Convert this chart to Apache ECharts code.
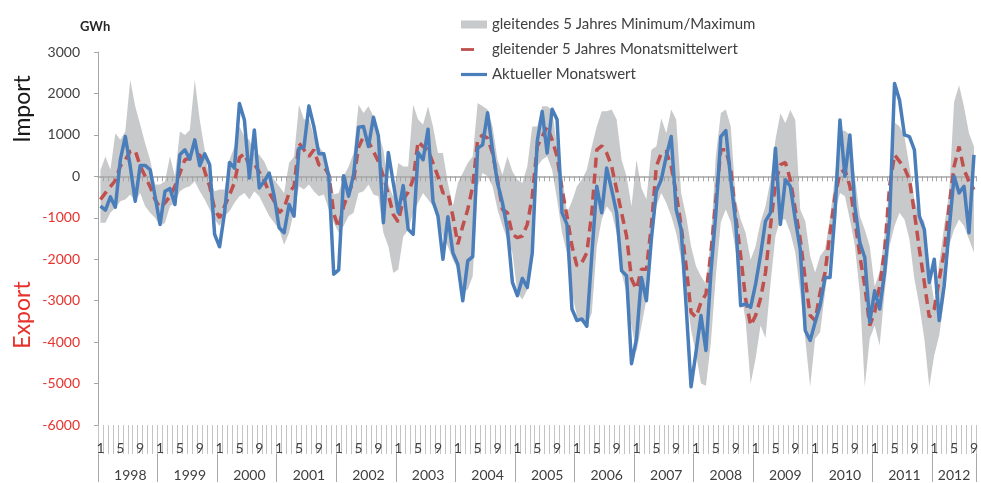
<!DOCTYPE html>
<html>
<head>
<meta charset="utf-8">
<title>Import / Export GWh</title>
<script src="https://cdn.jsdelivr.net/npm/echarts@6/dist/echarts.min.js"></script>
<style>
  html, body { margin: 0; padding: 0; background: #fff; }
  #main { width: 981px; height: 483px; }
</style>
</head>
<body>
<div id="main"></div>
<script>
// Jahre und Monate (2012 nur bis September)
var years = [1998, 1999, 2000, 2001, 2002, 2003, 2004, 2005, 2006, 2007, 2008, 2009, 2010, 2011, 2012];
var monthsInLastYear = 9;
var monthTickLabels = [1, 5, 9];
var yTicks = { min: -6000, max: 3000, step: 1000 };

var bandName = 'gleitendes 5 Jahres Minimum/Maximum';
var meanName = 'gleitender 5 Jahres Monatsmittelwert';
var actualName = 'Aktueller Monatswert';

// Aktueller Monatswert (GWh)
var actual = [
  -720, -816, -496, -744, 400, 960, 240, -600, 264, 264, 160, -480,
  -1160, -360, -296, -680, 520, 640, 416, 880, 256, 544, 280, -1400,
  -1700, -880, 336, 200, 1760, 1360, -40, 1120, -280, -120, 80, -480,
  -1240, -1360, -680, -960, 680, 700, 1700, 1200, 544, 544, 0, -2360,
  -2256, 16, -480, 40, 1184, 1200, 720, 1424, 976, -1120, 576, -160,
  -880, -224, -1280, -1400, 576, 400, 1136, -600, -960, -2000, -976, -1840,
  -2120, -3000, -2040, -1936, 680, 760, 1536, 640, -160, -640, -1280, -2560,
  -2880, -2464, -2680, -1850, 840, 1565, 560, 1620, 1370, -880, -1160, -3200,
  -3480, -3440, -3616, -1900, -240, -880, 200, -320, -880, -2280, -2400, -4520,
  -3920, -2440, -3000, -1520, -360, -80, 480, 960, -800, -1280, -3120, -5080,
  -4240, -3360, -4200, -2320, -880, 960, 1104, -80, -1120, -3120, -3080, -3160,
  -2600, -1900, -1080, -880, 680, -1160, -80, -240, -1040, -1760, -3720, -3960,
  -3520, -3120, -2440, -2440, -880, 1360, 0, 1000, -720, -1600, -1960, -3520,
  -2760, -3200, -2320, -1040, 2240, 1840, 1000, 960, 640, -960, -1280, -2560,
  -2000, -3480, -2640, -1280, 0, -400, -240, -1360, 520
];

// gleitender 5 Jahres Monatsmittelwert
var mean = [
  -560, -400, -250, -100, 250, 400, 600, 620, 250, 0, -250, -560,
  -760, -640, -480, -240, 80, 400, 440, 480, 520, 120, -240, -800,
  -1000, -720, -450, -150, 450, 550, 250, 300, 100, -100, -400, -600,
  -880, -760, -400, -240, 800, 640, 480, 640, 280, 240, 40, -900,
  -1240, -720, -400, -100, 700, 960, 840, 600, 360, 0, -440, -920,
  -1100, -560, -380, -80, 840, 720, 640, 320, 0, -400, -400, -960,
  -1640, -1200, -800, -240, 880, 1000, 920, 560, -80, -800, -880, -1400,
  -1480, -1440, -1160, -480, 720, 960, 1200, 880, 480, -320, -960, -1680,
  -2160, -2080, -1840, -880, 640, 736, 560, 240, -320, -880, -1440, -2480,
  -2720, -2240, -2240, -1200, 240, 560, 600, 240, -400, -1200, -2160, -3280,
  -3400, -3040, -2840, -1840, -560, 640, 640, 160, -960, -1920, -2960, -3600,
  -3360, -2950, -2320, -1200, -160, 280, 336, -80, -800, -1520, -2480, -3360,
  -3480, -2800, -2320, -1360, -480, 80, 160, -240, -1040, -1920, -2640, -3600,
  -3280, -2640, -1800, -240, 520, 360, 200, -80, -880, -1760, -2560, -3400,
  -3200, -2480, -1840, -720, 240, 720, 160, -120, -320
];

// gleitendes 5 Jahres Maximum
var bandMax = [
  150, 480, 160, 1040, 880, 1080, 2330, 1690, 1250, 800, 400, -200,
  -200, -120, 480, 0, 1080, 1000, 1120, 2330, 1360, 640, -80, -360,
  -320, -320, 400, 720, 1200, 960, 880, 560, 520, 360, 80, -80,
  -240, -400, 320, 480, 1730, 1370, 1400, 960, 720, 560, 200, -440,
  -400, 0, 240, 560, 1730, 1530, 1690, 1450, 1040, 640, -200, -500,
  320, 240, 240, 1730, 1370, 1250, 1690, 1200, 560, 560, -160, -720,
  -160, 80, 320, 480, 1770, 1690, 1610, 1200, 400, 40, 480, 120,
  -80, -160, 240, 1200, 1200, 1690, 1690, 1600, 720, 40, -880, -600,
  -240, -80, 160, 720, 1200, 1570, 1570, 1610, 1370, 400, 0, -720,
  400, -280, -560, 640, 720, 1400, 1040, 1610, 1370, -400, -960, -1690,
  -2170, -2410, -2600, -1500, 500, 1530, 1610, 1200, -560, -1040, -1370, -2010,
  -1690, -1100, -720, -80, 880, 1520, 1280, 1600, 1360, -800, -1080, -1920,
  -2320, -1920, -1760, -1000, 0, 1100, 1100, 1000, 0, -960, -1280, -1690,
  -2650, -2300, -1400, -160, 1300, 1200, 960, 240, -560, -960, -1080, -2240,
  -3040, -2100, -1200, -400, 1800, 2200, 1680, 1040, 720
];

// gleitendes 5 Jahres Minimum
var bandMin = [
  -1120, -1120, -880, -760, -600, -560, -440, -600, -400, -720, -880, -1000,
  -1200, -1120, -720, -640, -360, -280, -240, -120, -360, -560, -800, -1040,
  -1200, -960, -840, -640, -480, -400, -560, -360, -480, -720, -960, -1120,
  -1280, -1650, -1360, -840, -240, -320, -200, -360, -480, -440, -800, -1120,
  -1360, -1200, -960, -880, -400, -360, -200, -440, -480, -1360, -1690, -2330,
  -2250, -1450, -1290, -880, -640, -400, -560, -720, -960, -1450, -1690, -2010,
  -2250, -2810, -2730, -2410, -240, 80, 0, -240, -800, -1200, -1530, -1850,
  -2810, -2970, -2730, -1690, 240, 400, 480, 160, -560, -1370, -1850, -2810,
  -3370, -3530, -3610, -3290, -1690, -1040, -720, -880, -1370, -2330, -2810, -3610,
  -4240, -3610, -2970, -1690, -720, -400, -640, -960, -1370, -2000, -2800, -3700,
  -4300, -5000, -5050, -4000, -2400, -1100, -800, -1100, -1800, -2700, -3500, -5000,
  -4400, -3600, -3900, -2600, -1440, -1040, -1040, -1360, -1840, -2800, -3920, -5080,
  -3920, -3760, -2800, -1920, -880, -400, -480, -1040, -1680, -2800, -5080, -3920,
  -3600, -4080, -2800, -1680, -1200, -880, -1040, -1520, -2480, -3120, -3920, -5080,
  -4320, -3840, -2960, -1680, -1280, -1040, -1200, -1520, -1840
];

var categories = [];
years.forEach(function (y, i) {
  var n = (i === years.length - 1) ? monthsInLastYear : 12;
  for (var m = 1; m <= n; m++) categories.push(y + '-' + m);
});
var bandSpan = bandMax.map(function (v, i) { return v - bandMin[i]; });

function monthOf(v) { return +String(v).split('-')[1]; }
function yearOf(v) { return +String(v).split('-')[0]; }

var FONT = 'Lato';
var RED_TXT = '#e8322d';
var GREY_TXT = '#404040';

var chart = echarts.init(document.getElementById('main'));

chart.setOption({
  animation: false,
  backgroundColor: '#ffffff',
  textStyle: { fontFamily: FONT },
  grid: { left: 98, right: 0, top: 52, bottom: 58, containLabel: false },
  legend: {
    orient: 'vertical',
    left: 456,
    top: 11,
    itemWidth: 26,
    itemHeight: 8,
    itemGap: 8,
    selectedMode: false,
    symbolKeepAspect: false,
    itemStyle: { borderWidth: 0 },
    textStyle: { fontFamily: FONT, fontSize: 15, color: GREY_TXT, lineHeight: 17 },
    data: [
      { name: bandName, icon: 'rect' },
      { name: meanName, icon: 'path://M0,0M26,8M0,2.6H13V5.4H0Z' },
      { name: actualName, icon: 'path://M0,0M26,8M0,2.4H26V5.6H0Z' }
    ]
  },
  xAxis: [
    {
      type: 'category',
      data: categories,
      position: 'bottom',
      boundaryGap: true,
      axisLine: { show: false, onZero: false },
      axisTick: { show: true, interval: 0, length: 29, lineStyle: { color: '#c4c4c4' } },
      axisLabel: {
        interval: function (i, v) { return monthTickLabels.indexOf(monthOf(v)) !== -1; },
        formatter: function (v) { return String(monthOf(v)); },
        margin: 16, fontFamily: FONT, fontSize: 14, color: GREY_TXT
      },
      splitLine: { show: false }
    },
    {
      type: 'category',
      data: categories,
      position: 'bottom',
      offset: 29,
      boundaryGap: true,
      axisLine: { show: false, onZero: false },
      axisTick: {
        show: true, length: 28,
        interval: function (i, v) { return monthOf(v) === 1; },
        lineStyle: { color: '#a8a8a8' }
      },
      axisLabel: {
        interval: function (i, v) {
          var n = yearOf(v) === years[years.length - 1] ? monthsInLastYear : 12;
          return monthOf(v) === Math.floor(n / 2) + 1;
        },
        formatter: function (v) { return String(yearOf(v)); },
        margin: 14, fontFamily: FONT, fontSize: 14, color: GREY_TXT
      },
      splitLine: { show: false }
    },
    {
      type: 'category',
      data: categories,
      position: 'bottom',
      boundaryGap: true,
      axisLine: { show: true, onZero: true, lineStyle: { color: '#a6a6a6', width: 1.5 } },
      axisTick: { show: true, interval: 0, length: 5, lineStyle: { color: '#a6a6a6' } },
      axisLabel: { show: false },
      splitLine: { show: false }
    }
  ],
  yAxis: {
    type: 'value',
    min: yTicks.min,
    max: yTicks.max,
    interval: yTicks.step,
    axisLine: { show: true, lineStyle: { color: '#a6a6a6' } },
    axisTick: { show: true, length: 4, lineStyle: { color: '#a6a6a6' } },
    splitLine: { show: false },
    axisLabel: {
      margin: 18, fontFamily: FONT, fontSize: 14,
      formatter: function (v) { return String(v); },
      color: function (v) { return parseFloat(v) < 0 ? RED_TXT : GREY_TXT; }
    }
  },
  graphic: [
    { type: 'text', x: 80, y: 27, style: { text: 'GWh', fontFamily: FONT, fontWeight: 'bold', fontSize: 13, fill: '#262626', verticalAlign: 'middle' } },
    { type: 'text', x: 23, y: 109, rotation: Math.PI / 2, style: { text: 'Import', fontFamily: FONT, fontSize: 23, fill: '#1a1a1a', align: 'center', verticalAlign: 'middle' } },
    { type: 'text', x: 23, y: 315, rotation: Math.PI / 2, style: { text: 'Export', fontFamily: FONT, fontSize: 23, fill: RED_TXT, align: 'center', verticalAlign: 'middle' } }
  ],
  series: [
    {
      name: 'band-min',
      type: 'line',
      data: bandMin,
      stack: 'band',
      stackStrategy: 'all',
      symbol: 'none',
      silent: true,
      z: -1,
      color: 'rgba(0,0,0,0)',
      lineStyle: { width: 0, opacity: 0 }
    },
    {
      name: bandName,
      type: 'line',
      data: bandSpan,
      stack: 'band',
      stackStrategy: 'all',
      symbol: 'none',
      silent: true,
      z: -1,
      color: '#c8c9cb',
      lineStyle: { width: 0, opacity: 0 },
      areaStyle: { color: '#c8c9cb', opacity: 1 }
    },
    {
      name: meanName,
      type: 'line',
      data: mean,
      symbol: 'none',
      color: '#c0504d',
      lineStyle: { width: 3.5, type: [10, 6], color: '#c0504d' }
    },
    {
      name: actualName,
      type: 'line',
      data: actual,
      symbol: 'none',
      color: '#4a7ebb',
      lineStyle: { width: 3.5, color: '#4a7ebb', join: 'round' }
    }
  ]
});
</script>
</body>
</html>
